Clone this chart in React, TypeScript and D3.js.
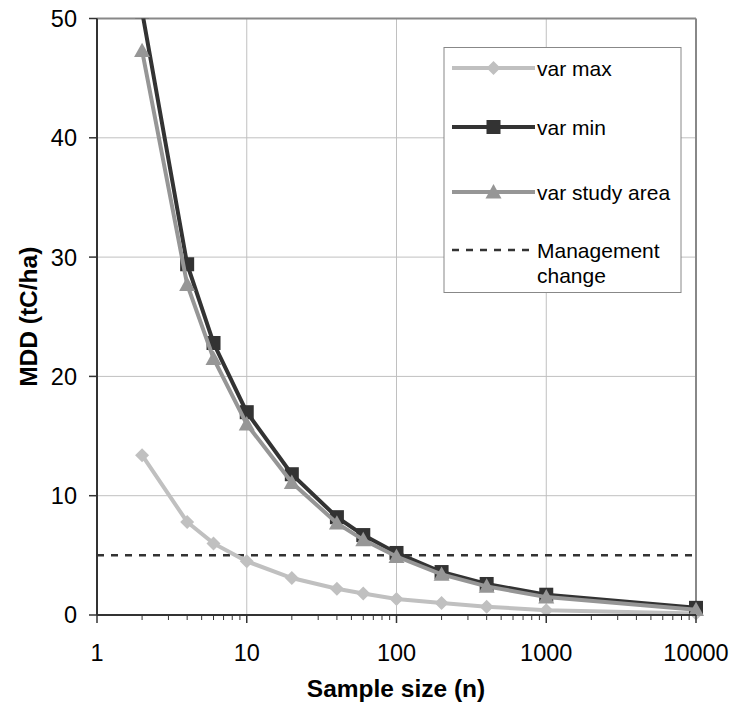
import React from "react";
import * as d3 from "d3";

// sample sizes (n)
const sampleSizes = [2, 4, 6, 10, 20, 40, 60, 100, 200, 400, 1000, 10000];
const varMax = [13.4, 7.8, 6.0, 4.5, 3.1, 2.2, 1.8, 1.35, 1.0, 0.7, 0.4, 0.12];
const varMin = [50.6, 29.4, 22.8, 17.0, 11.8, 8.2, 6.7, 5.2, 3.6, 2.6, 1.7, 0.6];
const varStudy = [47.3, 27.7, 21.5, 16.0, 11.1, 7.7, 6.3, 4.9, 3.4, 2.4, 1.5, 0.45];
const managementChange = 5;
const xTicks = [1, 10, 100, 1000, 10000];
const yTicks = [0, 10, 20, 30, 40, 50];

const FONT = "Arial, 'Liberation Sans', sans-serif";

const App = () => {
  const left = 97, right = 696, top = 18.5, bottom = 615;
  const x = d3.scaleLog().domain([1, 10000]).range([left, right]);
  const y = d3.scaleLinear().domain([0, 50]).range([bottom, top]);

  const line = d3.line<number>().x((_, i) => x(sampleSizes[i])).y(d => y(d));

  const minorTicks: number[] = [];
  for (let p = 0; p < 4; p++) {
    for (let k = 2; k <= 9; k++) minorTicks.push(k * Math.pow(10, p));
  }

  const diamond = (cx: number, cy: number, r: number) =>
    `M${cx},${cy - r}L${cx + r},${cy}L${cx},${cy + r}L${cx - r},${cy}Z`;
  const tri = (cx: number, cy: number, r: number) =>
    `M${cx},${cy - r}L${cx + r},${cy + r * 0.8}L${cx - r},${cy + r * 0.8}Z`;

  const legendY = [68, 127, 192, 250];
  const lx0 = 452, lx1 = 535;
  const sq = 14;

  return (
    <svg width={733} height={709} style={{ position: "absolute", left: 0, top: 0, display: "block" }}>
      <defs>
        <clipPath id="plot">
          <rect x={0} y={top} width={733} height={709} />
        </clipPath>
      </defs>
      <rect x={0} y={0} width={733} height={709} fill="#fff" />
      {/* gridlines */}
      {yTicks.slice(1, -1).map(t => (
        <line key={"gy" + t} x1={left} x2={right} y1={y(t)} y2={y(t)} stroke="#c0c0c0" strokeWidth={1} />
      ))}
      {xTicks.slice(1, -1).map(t => (
        <line key={"gx" + t} x1={x(t)} x2={x(t)} y1={top} y2={bottom} stroke="#c0c0c0" strokeWidth={1} />
      ))}
      {/* plot border top/right */}
      <line x1={left} x2={right} y1={top} y2={top} stroke="#888" strokeWidth={2} />
      <line x1={right} x2={right} y1={top} y2={bottom} stroke="#888" strokeWidth={2} />

      <g clipPath="url(#plot)">
        <line x1={left} x2={right} y1={y(managementChange)} y2={y(managementChange)}
          stroke="#333" strokeWidth={2.5} strokeDasharray="7,7" />
        <path d={line(varMax) || ""} fill="none" stroke="#c0c0c0" strokeWidth={4} />
        {varMax.map((v, i) => (
          <path key={"d" + i} d={diamond(x(sampleSizes[i]), y(v), 7)} fill="#c0c0c0" />
        ))}
        <path d={line(varMin) || ""} fill="none" stroke="#333" strokeWidth={4} />
        {varMin.map((v, i) => (
          <rect key={"s" + i} x={x(sampleSizes[i]) - sq / 2} y={y(v) - sq / 2} width={sq} height={sq} fill="#333" />
        ))}
        <path d={line(varStudy) || ""} fill="none" stroke="#969696" strokeWidth={4} />
        {varStudy.map((v, i) => (
          <path key={"t" + i} d={tri(x(sampleSizes[i]), y(v), 8)} fill="#969696" />
        ))}
      </g>

      {/* axes */}
      <line x1={left} x2={left} y1={top} y2={bottom} stroke="#333" strokeWidth={2} />
      <line x1={left} x2={right} y1={bottom} y2={bottom} stroke="#333" strokeWidth={2} />
      {yTicks.map(t => (
        <g key={"yt" + t}>
          <line x1={left - 8} x2={left} y1={y(t)} y2={y(t)} stroke="#333" strokeWidth={1.5} />
          <text x={77} y={y(t)} dy="0.36em" textAnchor="end" fontFamily={FONT} fontSize={23.5}>{t}</text>
        </g>
      ))}
      {xTicks.map(t => (
        <g key={"xt" + t}>
          <line x1={x(t)} x2={x(t)} y1={bottom} y2={bottom + 8} stroke="#333" strokeWidth={1.5} />
          <text x={x(t)} y={661} textAnchor="middle" fontFamily={FONT} fontSize={23.5}>{t}</text>
        </g>
      ))}
      {minorTicks.map(t => (
        <line key={"mt" + t} x1={x(t)} x2={x(t)} y1={bottom} y2={bottom + 5} stroke="#333" strokeWidth={1} />
      ))}
      <text x={396} y={697} textAnchor="middle" fontFamily={FONT} fontSize={24.5} fontWeight="bold">Sample size (n)</text>
      <text transform={`translate(37,${(top + bottom) / 2}) rotate(-90)`} textAnchor="middle"
        fontFamily={FONT} fontSize={24.5} fontWeight="bold">MDD (tC/ha)</text>

      {/* legend */}
      <rect x={444} y={47.5} width={237} height={245} fill="#fff" stroke="#888" strokeWidth={1} />
      <line x1={lx0} x2={lx1} y1={legendY[0]} y2={legendY[0]} stroke="#c0c0c0" strokeWidth={4} />
      <path d={diamond((lx0 + lx1) / 2, legendY[0], 7)} fill="#c0c0c0" />
      <text x={537} y={legendY[0]} dy="0.36em" fontFamily={FONT} fontSize={21}>var max</text>
      <line x1={lx0} x2={lx1} y1={legendY[1]} y2={legendY[1]} stroke="#333" strokeWidth={4} />
      <rect x={(lx0 + lx1) / 2 - sq / 2} y={legendY[1] - sq / 2} width={sq} height={sq} fill="#333" />
      <text x={537} y={legendY[1]} dy="0.36em" fontFamily={FONT} fontSize={21}>var min</text>
      <line x1={lx0} x2={lx1} y1={legendY[2]} y2={legendY[2]} stroke="#969696" strokeWidth={4} />
      <path d={tri((lx0 + lx1) / 2, legendY[2], 8)} fill="#969696" />
      <text x={537} y={legendY[2]} dy="0.36em" fontFamily={FONT} fontSize={21}>var study area</text>
      <line x1={lx0} x2={lx1} y1={legendY[3]} y2={legendY[3]} stroke="#333" strokeWidth={2.5} strokeDasharray="7,7" />
      <text x={537} y={legendY[3]} dy="0.36em" fontFamily={FONT} fontSize={21}>Management</text>
      <text x={537} y={legendY[3] + 25} dy="0.36em" fontFamily={FONT} fontSize={21}>change</text>
    </svg>
  );
};

export default App;
